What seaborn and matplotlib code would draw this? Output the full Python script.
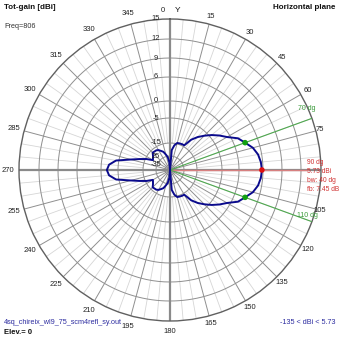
import numpy as np
import matplotlib
matplotlib.use("Agg")
import matplotlib.pyplot as plt
import seaborn as sns
import pandas as pd

# ---------------- data ----------------
angles_deg = list(range(0, 361, 5))
gain_dbi = [
    -135, -20.4, -16.5, -14.6, -14.5, -14.4, -14.4, -11.0, -8.6, -6.4,
    -4.3, -2.6, -0.9, 1.5, 2.73, 4.2, 5.1, 5.55, 5.73, 5.55,
    5.1, 4.2, 2.73, 1.5, -0.9, -2.6, -4.3, -6.4, -8.6, -11.0,
    -14.4, -14.4, -14.5, -14.6, -16.5, -20.4, -135, -31.7, -25.8, -23.5,
    -20.9, -19.6, -18.1, -17.3, -17.2, -16.9, -18.7, -19.8, -20.6, -15.8,
    -13.0, -9.6, -4.2, -2.3, -1.72, -2.3, -4.2, -9.6, -13.0, -15.8,
    -20.6, -19.8, -18.7, -16.9, -17.2, -17.3, -18.1, -19.6, -20.9, -23.5,
    -25.8, -31.7, -135,
]
ring_db = [15, 12, 9, 6, 0, -5, -15, -25, -35]
ring_labels = ["15", "12", "9", "6", "0", "-5", "-15", "25", "-35"]
angle_ticks = [15, 30, 45, 60, 75, 105, 120, 135, 150, 165, 180,
               195, 210, 225, 240, 255, 270, 285, 300, 315, 330, 345]
max_angle = 90
max_gain = 5.73
bw_angles = [70, 110]
bw_gain = 2.73
beamwidth = 40
front_back = 7.45
min_gain = -135
freq = 806
elev = 0
file_name = "4sq_chireix_wl9_75_scm4refl_sy.out"

# non-linear (log-like) radial scale of the chart
scale_db = [-135, -35, -25, -15, -5, 0, 6, 9, 12, 15]
scale_r = [0, 5, 14, 27, 52, 69, 93, 112, 131, 151]


def rad(db):
    return np.interp(db, scale_db, scale_r) / scale_r[-1]


# ---------------- figure ----------------
W = 339
fig = plt.figure(figsize=(W / 100, W / 100), dpi=100)
fig.patch.set_facecolor("white")
cx, cy, R = 170, 170, 151
ax = fig.add_axes([(cx - R) / W, (W - cy - R) / W, 2 * R / W, 2 * R / W],
                  projection="polar")
ax.set_theta_zero_location("N")
ax.set_theta_direction(-1)
ax.grid(False)
ax.set_xticks([])
ax.set_yticks([])
ax.spines["polar"].set_color("#606060")
ax.spines["polar"].set_linewidth(1.0)

FONT = "Liberation Sans"
NARROW = ["Liberation Sans Narrow", "Liberation Sans"]
full = np.linspace(0, 2 * np.pi, 361)

# radial lines
r15 = rad(-15)
for a in range(0, 360, 5):
    t = np.deg2rad(a)
    if a % 90 == 0:
        ax.plot([t, t], [0, 1], color="#8a8a8a", lw=1.6, zorder=2)
    elif a % 15 == 0:
        ax.plot([t, t], [0, 1], color="#8f8f8f", lw=0.7, zorder=1)
    else:
        ax.plot([t, t], [r15, 1], color="#d6d6d6", lw=0.6, zorder=0)

# rings
for db in ring_db[1:]:
    ax.plot(full, np.full_like(full, rad(db)), color="#8f8f8f", lw=0.7, zorder=1)

# ring labels
for db, lab in zip(ring_db, ring_labels):
    ax.annotate(lab, xy=(0, rad(db)), xytext=(-14, 0), textcoords="offset pixels",
                ha="center", va="center", fontsize=5.4, family=FONT,
                color="#222222", zorder=5)

# angle labels
for a in angle_ticks:
    if a in (75, 105):
        rr = 1.025
    elif a >= 180:
        rr = 1.072
    else:
        rr = 1.052
    ax.text(np.deg2rad(a), rr, str(a), ha="center", va="center",
            fontsize=5.5, family=FONT, color="#222222")
ax.text(np.deg2rad(-2.6), 1.06, "0", ha="center", va="center",
        fontsize=5.5, family=FONT, color="#222222")
ax.text(np.deg2rad(2.7), 1.06, "Y", ha="center", va="center",
        fontsize=6, family=FONT, color="#111111")

# max direction (red) and beamwidth lines (green)
tmax = np.deg2rad(max_angle)
ax.plot([tmax, tmax], [0, 0.915], color="#d88080", lw=1.0, zorder=3)
for a in bw_angles:
    t = np.deg2rad(a)
    ax.plot([t, t], [0, 1.0], color="#4fa84f", lw=0.8, zorder=3)

# pattern
df = pd.DataFrame({"theta": np.deg2rad(angles_deg), "r": rad(np.array(gain_dbi))})
sns.lineplot(data=df, x="theta", y="r", ax=ax, sort=False, estimator=None,
             color="#0a0a8c", lw=1.4, legend=False, zorder=4)

pts = pd.DataFrame({"theta": np.deg2rad([max_angle] + bw_angles),
                    "r": rad(np.array([max_gain] + [bw_gain] * len(bw_angles))),
                    "kind": ["max"] + ["bw"] * len(bw_angles)})
sns.scatterplot(data=pts, x="theta", y="r", hue="kind",
                palette={"max": "#e01010", "bw": "#10a010"}, s=16,
                edgecolor="none", ax=ax, legend=False, zorder=6)

ax.set_xlabel("")
ax.set_ylabel("")
ax.set_ylim(0, 1)
ax.set_facecolor("white")

# green labels
ax.text(np.deg2rad(65.8), 0.995, f"{bw_angles[0]} dg", ha="center", va="center",
        fontsize=5, family=NARROW, color="#3a9a3a")
ax.text(np.deg2rad(108.2), 0.955, f"{bw_angles[1]} dg", ha="center", va="center",
        fontsize=5, family=NARROW, color="#3a9a3a")

# red annotation block
red = "#d03030"
fx = 307 / W
for yy, s in [(162.5, f"{max_angle} dg"), (171.5, f"{max_gain:.2f} dBi"),
              (180.5, f"bw: {beamwidth} dg"), (189.5, f"fb: {front_back:.2f} dB")]:
    fig.text(fx, 1 - yy / W, s, ha="left", va="center", fontsize=4.8,
             family=NARROW, color=red)

# titles and footers
fig.text(4 / W, 1 - 7.5 / W, "Tot-gain [dBi]", ha="left", va="center",
         fontsize=5.8, fontweight="bold", family=FONT, color="#111111")
fig.text(335 / W, 1 - 7.5 / W, "Horizontal plane", ha="right", va="center",
         fontsize=5.8, fontweight="bold", family=FONT, color="#111111")
fig.text(4 / W, 1 - 26 / W, f"Freq={freq}", ha="left", va="center",
         fontsize=5.2, family=FONT, color="#333333")
fig.text(4 / W, 1 - 323 / W, file_name, ha="left", va="center",
         fontsize=5.2, family=FONT, color="#2c2ca0")
fig.text(4 / W, 1 - 333 / W, f"Elev.= {elev}", ha="left", va="center",
         fontsize=5.5, fontweight="bold", family=FONT, color="#111111")
fig.text(335 / W, 1 - 323 / W, f"{min_gain} < dBi < {max_gain:.2f}",
         ha="right", va="center", fontsize=5.2, family=FONT, color="#2c2ca0")

fig.savefig("out.png", dpi=100, facecolor="white")
